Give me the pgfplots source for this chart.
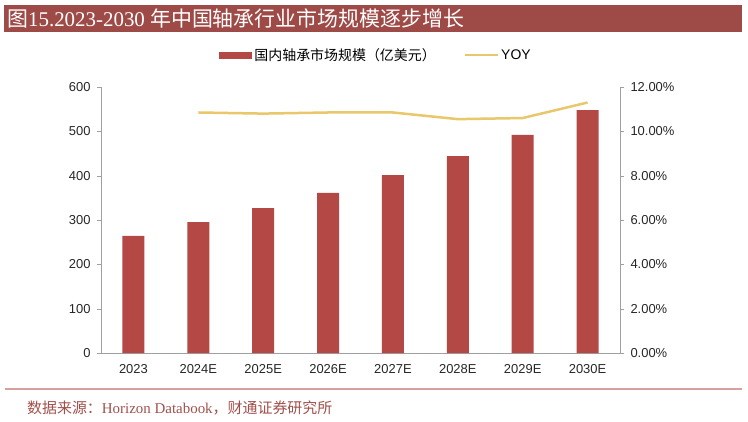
\documentclass[border=0pt]{standalone}
\usepackage{pgfplots}
\pgfplotsset{compat=1.18}
\usepackage{fontspec}
\setmainfont{Liberation Sans}
\newfontfamily\cjk{Noto Sans CJK SC}
\newfontfamily\serifl{Liberation Serif}

\definecolor{barred}{RGB}{180,72,69}
\definecolor{yoyline}{RGB}{232,200,106}
\definecolor{titlebg}{RGB}{158,74,71}
\definecolor{axisgray}{RGB}{160,160,160}
\definecolor{rulepink}{RGB}{214,160,158}
\definecolor{srcred}{RGB}{160,80,75}

\pgfplotsset{
  basestyle/.style={
    at={(101bp,68bp)}, anchor=south west,
    scale only axis, width=519bp, height=266bp,
    xmin=-0.5, xmax=7.5,
    axis line style={axisgray},
    tick style={axisgray},
    tick align=outside,
    major tick length=4bp,
    /pgf/number format/assume math mode=true,
    ticklabel style={font=\fontsize{13}{13}\selectfont, text=black!85},
  }
}

\begin{document}
\begin{tikzpicture}[x=1bp,y=1bp]
\path[use as bounding box] (0,0) rectangle (748,421);

% title bar
\fill[titlebg] (4,389) rectangle (742,416);
\node[anchor=west, text=white, inner sep=0, font=\fontsize{21}{21}\selectfont]
  at (7,402.5) {{\cjk 图}{\serifl 15.2023-2030 }{\cjk 年中国轴承行业市场规模逐步增长}};

% bottom rule and source
\draw[rulepink, line width=1.2bp] (5,32) -- (742,32);
\node[anchor=west, text=srcred, inner sep=0, font=\fontsize{15}{15}\selectfont]
  at (27,13) {{\cjk 数据来源：}{\serifl Horizon Databook}{\cjk ，财通证券研究所}};

\begin{axis}[
  basestyle,
  ymin=0, ymax=600,
  ytick={0,100,...,600},
  xtick={0,...,7},
  xticklabels={2023,2024E,2025E,2026E,2027E,2028E,2029E,2030E},
  x tick style={draw=none},
  xticklabel style={yshift=-4bp},
  yticklabel style={xshift=-3bp},
  axis x line*=bottom, axis y line*=left,
  legend style={at={(0.53,1.12)}, anchor=center, draw=none, fill=none,
    legend columns=2, font=\fontsize{14}{14}\selectfont,
    /tikz/every even column/.append style={column sep=26bp}},
  legend cell align=left,
]
\addplot[ybar, bar width=22bp, fill=barred, draw=none,
  legend image code/.code={\fill[barred] (0bp,-3.5bp) rectangle (33bp,3.5bp);}]
  coordinates {(0,264) (1,295) (2,327) (3,361) (4,401) (5,444) (6,492) (7,548)};
\addlegendentry{\cjk 国内轴承市场规模（亿美元）}
\addlegendimage{legend image code/.code={\draw[yoyline, line width=2.5bp] (0bp,0bp) -- (33bp,0bp);}}
\addlegendentry{YOY}
\end{axis}

\begin{axis}[
  basestyle,
  ymin=0, ymax=12,
  ytick={0,2,...,12},
  yticklabel={\pgfmathprintnumber[fixed,fixed zerofill,precision=2]{\tick}\%},
  yticklabel style={xshift=3bp},
  axis x line=none, axis y line*=right,
]
\addplot[yoyline, line width=2.5bp, mark=none]
  coordinates {(1,10.85) (2,10.8) (3,10.85) (4,10.85) (5,10.55) (6,10.6) (7,11.3)};
\end{axis}
\end{tikzpicture}
\end{document}
